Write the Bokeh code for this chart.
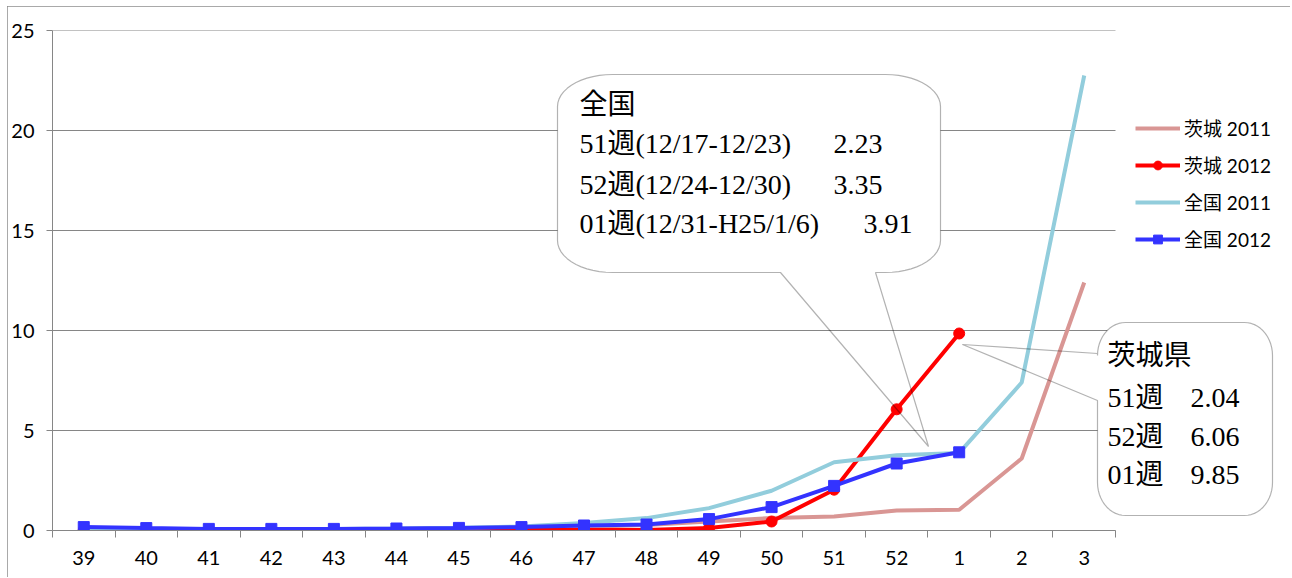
import numpy as np
from bokeh.plotting import figure
from bokeh.models import (Range1d, FixedTicker, Legend, LegendItem, Label,
                          PolyAnnotation)
from bokeh.embed import file_html
from bokeh.resources import INLINE

# ---- data ----
weeks = ["39", "40", "41", "42", "43", "44", "45", "46", "47", "48",
         "49", "50", "51", "52", "1", "2", "3"]
ibaraki_2011 = [0.05, 0.05, 0.05, 0.05, 0.05, 0.07, 0.10, 0.12, 0.17, 0.28,
                0.45, 0.62, 0.70, 1.00, 1.04, 3.60, 12.40]
ibaraki_2012 = [0.02, 0.02, 0.02, 0.00, 0.00, 0.00, 0.02, 0.03, 0.03, 0.03,
                0.12, 0.45, 2.04, 6.06, 9.85]
zenkoku_2011 = [0.08, 0.06, 0.06, 0.07, 0.08, 0.10, 0.14, 0.20, 0.37, 0.62,
                1.12, 1.99, 3.41, 3.76, 3.88, 7.40, 22.75]
zenkoku_2012 = [0.17, 0.12, 0.08, 0.08, 0.08, 0.10, 0.13, 0.17, 0.25, 0.30,
                0.57, 1.17, 2.23, 3.35, 3.91]
series_names = ["茨城 2011", "茨城 2012", "全国 2011", "全国 2012"]
y_ticks = [0, 5, 10, 15, 20, 25]

zenkoku_title = "全国"
zenkoku_rows = ["51週(12/17-12/23)", "52週(12/24-12/30)", "01週(12/31-H25/1/6)"]
zenkoku_vals = ["2.23", "3.35", "3.91"]
ibaraki_title = "茨城県"
ibaraki_rows = ["51週", "52週", "01週"]
ibaraki_vals = ["2.04", "6.06", "9.85"]

# ---- layout (page pixels) ----
N = len(weeks)
pos = [i + 0.5 for i in range(N)]

OX, OY = 7, 6              # figure origin on the page (via margin)
W, H = 1283, 571
FL, FR, FT, FB = 52, 1115, 30, 530   # data area of the chart
FRR = OX + W - 3                      # actual frame right (extended for callouts)
X_END = N * (FRR - FL) / (FR - FL)


def dx(px):
    return (px - FL) / (FR - FL) * N


def dy(py):
    return (FB - py) / (FB - FT) * 25


p = figure(width=W, height=H, x_range=Range1d(0, X_END), y_range=Range1d(0, 25),
           toolbar_location=None, tools="", output_backend="svg",
           min_border_left=FL - OX, min_border_right=OX + W - FRR,
           min_border_top=FT - OY, min_border_bottom=OY + H - FB)
p.margin = (OY, 0, 0, OX)
p.outline_line_color = None
p.background_fill_color = "white"
p.border_fill_color = "white"
p.styles = {"outline": "1px solid #8c8c8c", "outline-offset": "-1px"}

GRAY = "#868686"
TICK_FONT = "Lato, 'Noto Sans CJK JP'"

p.xgrid.grid_line_color = None
p.ygrid.grid_line_color = None
p.segment(x0=[0] * len(y_ticks), x1=[N] * len(y_ticks), y0=y_ticks, y1=y_ticks,
          line_color=GRAY, line_width=1, level="underlay")

xa = p.xaxis[0]
xa.bounds = (0, N)
xa.ticker = FixedTicker(ticks=pos, minor_ticks=list(range(N + 1)))
xa.major_label_overrides = {pp: w for pp, w in zip(pos, weeks)}
xa.major_tick_line_color = None
xa.major_tick_in = 0
xa.major_tick_out = 0
xa.minor_tick_line_color = GRAY
xa.minor_tick_in = 0
xa.minor_tick_out = 7
xa.axis_line_color = GRAY
xa.major_label_standoff = 13
xa.major_label_text_font = TICK_FONT
xa.major_label_text_font_size = "20px"
xa.major_label_text_color = "black"

ya = p.yaxis[0]
ya.ticker = FixedTicker(ticks=y_ticks, minor_ticks=[])
ya.major_tick_line_color = GRAY
ya.major_tick_in = 0
ya.major_tick_out = 6
ya.axis_line_color = GRAY
ya.major_label_standoff = 12
ya.major_label_text_font = TICK_FONT
ya.major_label_text_font_size = "20px"
ya.major_label_text_color = "black"

C_I11, C_I12, C_Z11, C_Z12 = "#D99694", "#FF0000", "#92CDDC", "#3333FF"

r1 = p.line(pos[:len(ibaraki_2011)], ibaraki_2011, line_color=C_I11, line_width=4)
r2 = p.line(pos[:len(ibaraki_2012)], ibaraki_2012, line_color=C_I12, line_width=4)
r2m = p.scatter(pos[:len(ibaraki_2012)], ibaraki_2012, marker="circle", size=11,
                fill_color=C_I12, line_color=C_I12)
r3 = p.line(pos[:len(zenkoku_2011)], zenkoku_2011, line_color=C_Z11, line_width=4)
r4 = p.line(pos[:len(zenkoku_2012)], zenkoku_2012, line_color=C_Z12, line_width=4)
r4m = p.scatter(pos[:len(zenkoku_2012)], zenkoku_2012, marker="square", size=11,
                fill_color=C_Z12, line_color=C_Z12)

legend = Legend(items=[LegendItem(label=series_names[0], renderers=[r1]),
                       LegendItem(label=series_names[1], renderers=[r2, r2m]),
                       LegendItem(label=series_names[2], renderers=[r3]),
                       LegendItem(label=series_names[3], renderers=[r4, r4m])],
                location=(1135 - FL, FB - 252),
                glyph_width=45, glyph_height=22, label_height=22,
                label_standoff=4, spacing=10, padding=0, margin=0,
                border_line_color=None, background_fill_alpha=0,
                label_text_font=TICK_FONT, label_text_font_size="19px",
                label_text_color="black")
p.add_layout(legend)


# ---- callout shapes (page pixel geometry -> data coords) ----
def arc(cx, cy, rx, ry, a0, a1, n=14):
    a = np.radians(np.linspace(a0, a1, n))
    return list(zip(cx + rx * np.cos(a), cy + ry * np.sin(a)))


def bottom_tail_bubble(L, T, R, B, rx, ry, bl, br, tip):
    pts = [(br, B)]
    pts += arc(R - rx, B - ry, rx, ry, 90, 0)
    pts += arc(R - rx, T + ry, rx, ry, 0, -90)
    pts += arc(L + rx, T + ry, rx, ry, -90, -180)
    pts += arc(L + rx, B - ry, rx, ry, 180, 90)
    pts += [(bl, B)]
    return pts, pts + [tip]


def left_tail_bubble(L, T, R, B, rx, ry, bt, bb, tip):
    pts = [(L, bb)]
    pts += arc(L + rx, B - ry, rx, ry, 180, 90)
    pts += arc(R - rx, B - ry, rx, ry, 90, 0)
    pts += arc(R - rx, T + ry, rx, ry, 0, -90)
    pts += arc(L + rx, T + ry, rx, ry, -90, -180)
    pts += [(L, bt)]
    return pts, pts + [tip]


def add_bubble(body, outline):
    p.add_layout(PolyAnnotation(xs=[dx(a) for a, b in body], ys=[dy(b) for a, b in body],
                                fill_color="white", fill_alpha=1, line_color=None))
    p.add_layout(PolyAnnotation(xs=[dx(a) for a, b in outline], ys=[dy(b) for a, b in outline],
                                fill_alpha=0, line_color="black", line_width=1.2))


body1, out1 = bottom_tail_bubble(557, 74, 940, 272, 55, 32, 780, 875, (928, 446))
add_bubble(body1, out1)
body2, out2 = left_tail_bubble(1097, 322, 1272, 515, 28, 33, 353, 400, (962, 344))
add_bubble(body2, out2)

CALLOUT_FONT = "'Liberation Serif', 'Noto Sans CJK JP'"
FS = "28px"


def label(px, py, text):
    p.add_layout(Label(x=dx(px), y=dy(py), text=text, text_align="left",
                       text_baseline="middle", text_font=CALLOUT_FONT,
                       text_font_size=FS, text_color="black"))


label(579, 104, zenkoku_title)
zy = [143, 184, 223]
zvx = [833, 833, 863]
for t, v, yy, vx in zip(zenkoku_rows, zenkoku_vals, zy, zvx):
    label(579, yy, t)
    label(vx, yy, v)

label(1107, 355, ibaraki_title)
iy = [397, 436, 474]
for t, v, yy in zip(ibaraki_rows, ibaraki_vals, iy):
    label(1107, yy, t)
    label(1190, yy, v)

open("out.html", "w").write(file_html(p, INLINE))
